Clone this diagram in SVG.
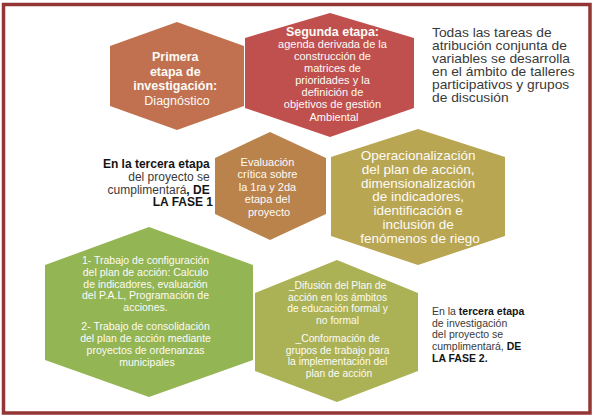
<svg xmlns="http://www.w3.org/2000/svg" width="594" height="418" viewBox="0 0 594 418">
<style>
  text { font-family: "Liberation Sans", Arial, sans-serif; }
  .hx { stroke: none; }
  .wt { fill: #FDFBF7; text-anchor: middle; }
  .dk { fill: #3A3A3A; }
  .b { font-weight: bold; }
  .bk { fill: #141414; font-weight: bold; }
</style>
<rect x="0" y="0" width="594" height="418" fill="#FFFFFF"/>
<rect id="frame" x="3.5" y="4.5" width="586.5" height="408.5" fill="#FFFFFF" stroke="#943634" stroke-width="3.5"/>

<g id="connectors"></g>

<g id="node-primera">
  <polygon class="hx" fill="#C1714F" points="177,22 244,46 244,106 177,130 110,106 110,46"/>
  <text class="wt" font-size="12.5">
    <tspan class="b" x="177" y="61">Primera</tspan>
    <tspan class="b" x="177" y="75.7">etapa de</tspan>
    <tspan class="b" x="177" y="90.4">investigación:</tspan>
    <tspan x="177" y="105">Diagnóstico</tspan>
  </text>
</g>

<g id="node-segunda">
  <polygon class="hx" fill="#C0504D" points="330,13 414,38 414,108 330,137 245,108 245,38"/>
  <text class="wt" font-size="11">
    <tspan class="b" font-size="12.5" x="334" y="35.5">Segunda etapa:</tspan>
    <tspan x="334" y="47.6">agenda derivada de la</tspan>
    <tspan x="334" y="59.8">construcción de</tspan>
    <tspan x="334" y="71.9">matrices de</tspan>
    <tspan x="334" y="84">prioridades y la</tspan>
    <tspan x="334" y="96.2">definición de</tspan>
    <tspan x="334" y="108.3">objetivos de gestión</tspan>
    <tspan x="334" y="120.5">Ambiental</tspan>
  </text>
</g>

<g id="note-talleres">
  <text class="dk" font-size="12" transform="matrix(1.15 0 0 1 432 0)">
    <tspan x="0" y="37.5">Todas las tareas de</tspan>
    <tspan x="0" y="50.5">atribución conjunta de</tspan>
    <tspan x="0" y="63.5">variables se desarrolla</tspan>
    <tspan x="0" y="76.5">en el ámbito de talleres</tspan>
    <tspan x="0" y="89.5">participativos y grupos</tspan>
    <tspan x="0" y="102.5">de discusión</tspan>
  </text>
</g>

<g id="note-fase1">
  <text class="dk" font-size="12" text-anchor="end">
    <tspan class="bk" x="213" y="168">En la tercera etapa</tspan>
    <tspan x="213" y="180.8">del proyecto se</tspan>
    <tspan x="213" y="193.6">cumplimentará<tspan class="bk">, DE</tspan></tspan>
    <tspan class="bk" x="213" y="206.4">LA FASE 1</tspan>
  </text>
</g>

<g id="node-evaluacion">
  <polygon class="hx" fill="#BA834B" points="270,132 326,158 326,214 270,240 215,214 215,158"/>
  <text class="wt" font-size="11">
    <tspan x="269" y="165.7">Evaluación</tspan>
    <tspan x="269" y="178.2">crítica sobre</tspan>
    <tspan x="269" y="190.7">la 1ra y 2da</tspan>
    <tspan x="269" y="203.2">etapa del</tspan>
    <tspan x="269" y="215.7">proyecto</tspan>
  </text>
</g>

<g id="node-operacionalizacion">
  <polygon class="hx" fill="#B9A653" points="418,129 505,157 505,236 418,265 331,236 331,157"/>
  <text class="wt" font-size="13.5">
    <tspan x="420" y="160">Operacionalización</tspan>
    <tspan x="420" y="173.8">del plan de acción,</tspan>
    <tspan x="420" y="187.6">dimensionalización</tspan>
    <tspan x="420" y="201.4">de indicadores,</tspan>
    <tspan x="420" y="215.2">identificación e</tspan>
    <tspan x="420" y="229">inclusión de</tspan>
    <tspan x="420" y="242.8">fenómenos de riego</tspan>
  </text>
</g>

<g id="node-trabajo">
  <polygon class="hx" fill="#93B554" points="149,227 253,265 253,360 149,397 45,360 45,265"/>
  <text class="wt" font-size="10.5">
    <tspan x="147" y="263.7">1- Trabajo de configuración</tspan>
    <tspan x="147" y="275.6">del plan de acción: Calculo</tspan>
    <tspan x="147" y="287.5">de indicadores, evaluación</tspan>
    <tspan x="147" y="299.4">del P.A.L, Programación de</tspan>
    <tspan x="147" y="311.3">acciones.</tspan>
    <tspan x="147" y="330.4">2- Trabajo de consolidación</tspan>
    <tspan x="147" y="342.3">del plan de acción mediante</tspan>
    <tspan x="147" y="354.2">proyectos de ordenanzas</tspan>
    <tspan x="147" y="366.1">municipales</tspan>
  </text>
</g>

<g id="node-difusion">
  <polygon class="hx" fill="#ABB255" points="337,260 418,293 418,371 337,402 255,371 255,293"/>
  <text class="wt" font-size="10.3">
    <tspan x="339" y="288.6">_Difusión del Plan de</tspan>
    <tspan x="339" y="300.5">acción en los ámbitos</tspan>
    <tspan x="339" y="312.4">de educación formal y</tspan>
    <tspan x="339" y="324.3">no formal</tspan>
    <tspan x="339" y="341.9">_Conformación de</tspan>
    <tspan x="339" y="353.6">grupos de trabajo para</tspan>
    <tspan x="339" y="365.3">la implementación  del</tspan>
    <tspan x="339" y="377">plan de acción</tspan>
  </text>
</g>

<g id="note-fase2">
  <text class="dk" font-size="10.5">
    <tspan x="432" y="314.8">En la <tspan class="bk">tercera etapa</tspan></tspan>
    <tspan x="432" y="326.6">de investigación</tspan>
    <tspan x="432" y="338.4">del proyecto se</tspan>
    <tspan x="432" y="350.2">cumplimentará, <tspan class="bk">DE</tspan></tspan>
    <tspan class="bk" x="432" y="362">LA FASE 2.</tspan>
  </text>
</g>
</svg>
